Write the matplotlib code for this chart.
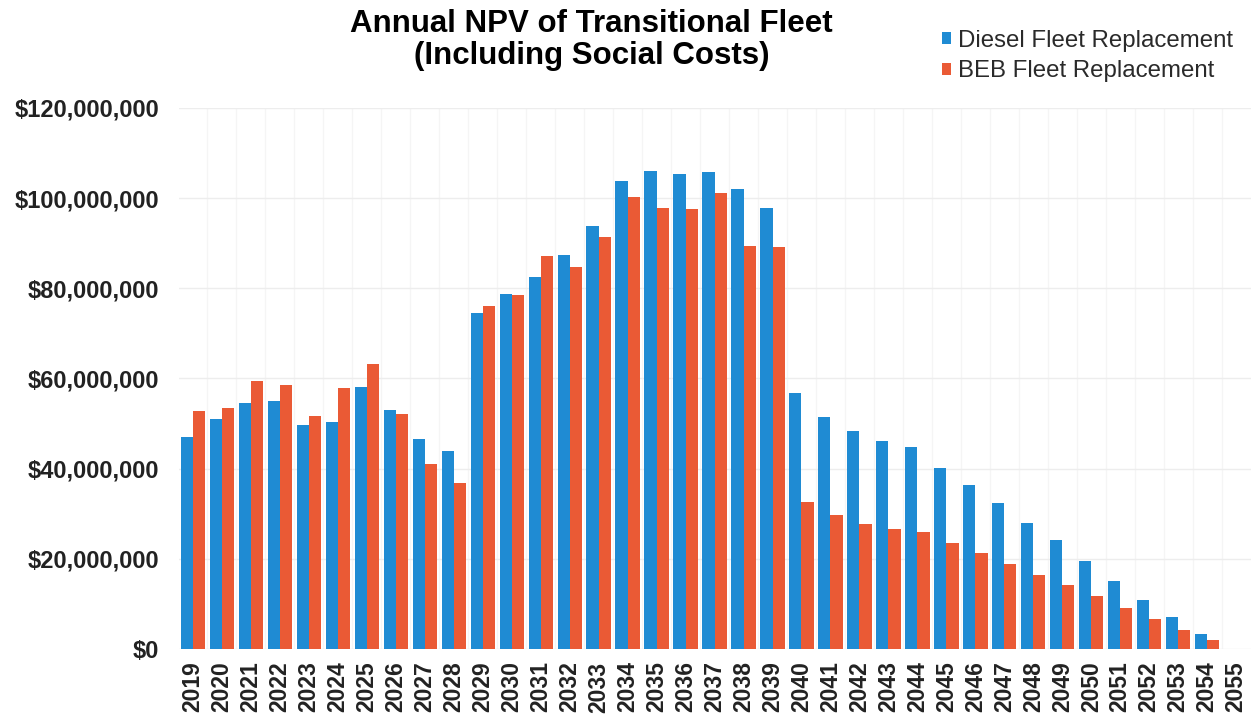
import matplotlib
matplotlib.use('Agg')
import matplotlib.pyplot as plt
import numpy as np
from matplotlib.ticker import FuncFormatter, MultipleLocator

plt.rcParams['font.family'] = ['Liberation Sans', 'DejaVu Sans']

years = [str(y) for y in range(2019, 2056)]

# values in $ millions (2055 has no bars)
diesel = [47.0, 51.1, 54.6, 55.1, 49.7, 50.3, 58.2, 53.0, 46.5, 43.8,
          74.5, 78.8, 82.5, 87.4, 93.9, 103.7, 106.1, 105.4, 105.8, 102.0,
          97.9, 56.7, 51.5, 48.4, 46.1, 44.7, 40.1, 36.3, 32.3, 28.0,
          24.1, 19.6, 15.1, 10.9, 7.0, 3.3, 0.0]
beb = [52.8, 53.4, 59.4, 58.5, 51.7, 57.8, 63.1, 52.0, 41.0, 36.7,
       76.0, 78.6, 87.2, 84.7, 91.3, 100.2, 97.8, 97.6, 101.2, 89.4,
       89.2, 32.5, 29.7, 27.8, 26.7, 26.0, 23.4, 21.2, 18.9, 16.5,
       14.2, 11.7, 9.1, 6.6, 4.3, 2.0, 0.0]

blue = '#1f8bd3'
orange = '#ea5a35'

fig = plt.figure(figsize=(12.51, 7.21), dpi=100)
ax = fig.add_axes([0.1427, 0.0999, 0.857, 0.7505])

x = np.arange(len(years))
w = 0.42
ax.bar(x - w / 2, np.array(diesel) * 1e6, width=w, color=blue, label='Diesel Fleet Replacement')
ax.bar(x + w / 2, np.array(beb) * 1e6, width=w, color=orange, label='BEB Fleet Replacement')

ax.set_xlim(-0.5, len(years) - 0.5)
ax.set_ylim(0, 120e6)
ax.yaxis.set_major_locator(MultipleLocator(20e6))
ax.yaxis.set_major_formatter(FuncFormatter(lambda v, p: '${:,.0f}'.format(v)))
ax.set_xticks(x)
ax.set_xticklabels(years, rotation=90)

for s in ax.spines.values():
    s.set_visible(False)
ax.tick_params(axis='both', length=0, labelcolor='#222222')
ax.tick_params(axis='y', pad=14, labelsize=17)
ax.tick_params(axis='x', pad=9, labelsize=16.5)
for lbl in ax.get_xticklabels() + ax.get_yticklabels():
    lbl.set_fontweight('bold')

ax.set_xticks(x[:-1] + 0.5, minor=True)
ax.tick_params(axis='x', which='minor', length=0)
ax.grid(axis='y', color='#ededed', linewidth=1)
ax.grid(axis='x', which='minor', color='#f5f5f5', linewidth=1)
ax.set_axisbelow(True)

fig.text(0.473, 0.945, 'Annual NPV of Transitional Fleet\n(Including Social Costs)',
         ha='center', va='center', fontsize=22.5, fontweight='bold', linespacing=1.1)

fig.legend(loc='upper left', bbox_to_anchor=(0.745, 0.972), frameon=False,
           fontsize=17.3, handlelength=0.4, handleheight=0.4, handletextpad=0.3,
           labelspacing=0.35, borderaxespad=0, labelcolor='#2a2a2a')

plt.savefig('out.png', dpi=100)
plt.close('all')
